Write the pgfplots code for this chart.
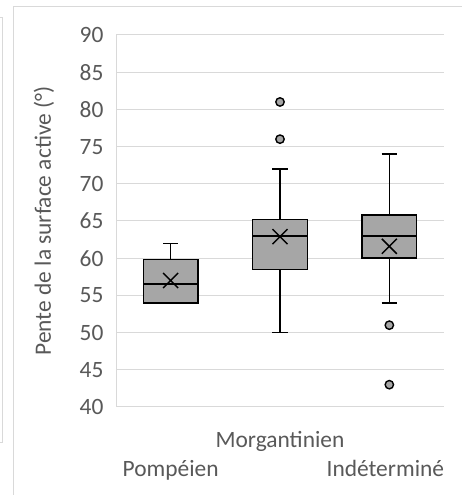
\documentclass[border=0pt]{standalone}
\usepackage{pgfplots}
\pgfplotsset{compat=1.18}
\usepgfplotslibrary{statistics}
\usepackage{fontspec}
\setmainfont{Carlito}
\definecolor{boxgray}{HTML}{A6A6A6}
\definecolor{gridgray}{HTML}{D9D9D9}
\definecolor{txtgray}{HTML}{595959}
\begin{document}
\begin{tikzpicture}
\useasboundingbox (0,0) rectangle (462bp,495bp);
\fill[white] (0,0) rectangle (462bp,495bp);
\draw[gridgray, line width=1bp] (13.5bp,0) -- (13.5bp,488.7bp) -- (462bp,488.7bp);
\draw[gridgray, line width=1bp] (0,477bp) -- (2.5bp,477bp) -- (2.5bp,52bp) -- (0,52bp);
\begin{axis}[
  at={(116bp,88bp)}, anchor=south west,
  scale only axis, width=328bp, height=372bp,
  xmin=0.5, xmax=3.5, ymin=40, ymax=90,
  ytick={40,45,...,90},
  xtick={1,2,3},
  xticklabels={{\raisebox{-29bp}[\height][\depth]{Pompéien}},Morgantinien,{\raisebox{-29bp}[\height][\depth]{Indéterminé\kern8bp}}},
  major tick length=0pt,
  axis y line*=left, axis x line*=bottom,
  y axis line style={draw=gridgray, line width=1bp},
  x axis line style={draw=none},
  ymajorgrids, grid style={gridgray, line width=1bp},
  /pgf/number format/assume math mode=true,
  ticklabel style={font=\fontsize{23.5}{28}\selectfont, text=txtgray},
  yticklabel style={xshift=-9bp},
  xticklabel style={anchor=base, yshift=-40.7bp},
  every axis y label/.style={at={(axis description cs:0,0.5)}, rotate=90, anchor=center, yshift=72bp, font=\fontsize{23.5}{28}\selectfont, text=txtgray},
  ylabel={Pente de la surface active (°)},
  boxplot/draw direction=y,
  boxplot/box extend=0.5, boxplot/whisker extend=0.14,
  boxplot/every box/.style={draw=black, fill=boxgray, line width=1.5bp},
  boxplot/every whisker/.style={draw=black, line width=1.5bp},
  boxplot/every median/.style={draw=black, line width=1.5bp},
  boxplot/every average/.style={/tikz/mark=x, /tikz/mark size=10.6bp, draw=black, line width=1.5bp},
]
\addplot[boxplot prepared={draw position=1, lower whisker=54, lower quartile=54, median=56.5, upper quartile=59.8, upper whisker=62, average=57},
  solid, draw=black, line width=1.5bp,
  mark=*, mark size=4.2bp, mark options={fill=boxgray, draw=black, line width=1.4bp}] coordinates {};
\addplot[boxplot prepared={draw position=2, lower whisker=50, lower quartile=58.5, median=63, upper quartile=65.2, upper whisker=72, average=62.9},
  solid, draw=black, line width=1.5bp,
  mark=*, mark size=4.2bp, mark options={fill=boxgray, draw=black, line width=1.4bp}] table[row sep=\\, y index=0] {data\\ 81\\ 76\\};
\addplot[boxplot prepared={draw position=3, lower whisker=54, lower quartile=60, median=63, upper quartile=65.8, upper whisker=74, average=61.6},
  solid, draw=black, line width=1.5bp,
  mark=*, mark size=4.2bp, mark options={fill=boxgray, draw=black, line width=1.4bp}] table[row sep=\\, y index=0] {data\\ 51\\ 43\\};
\end{axis}
\end{tikzpicture}
\end{document}
